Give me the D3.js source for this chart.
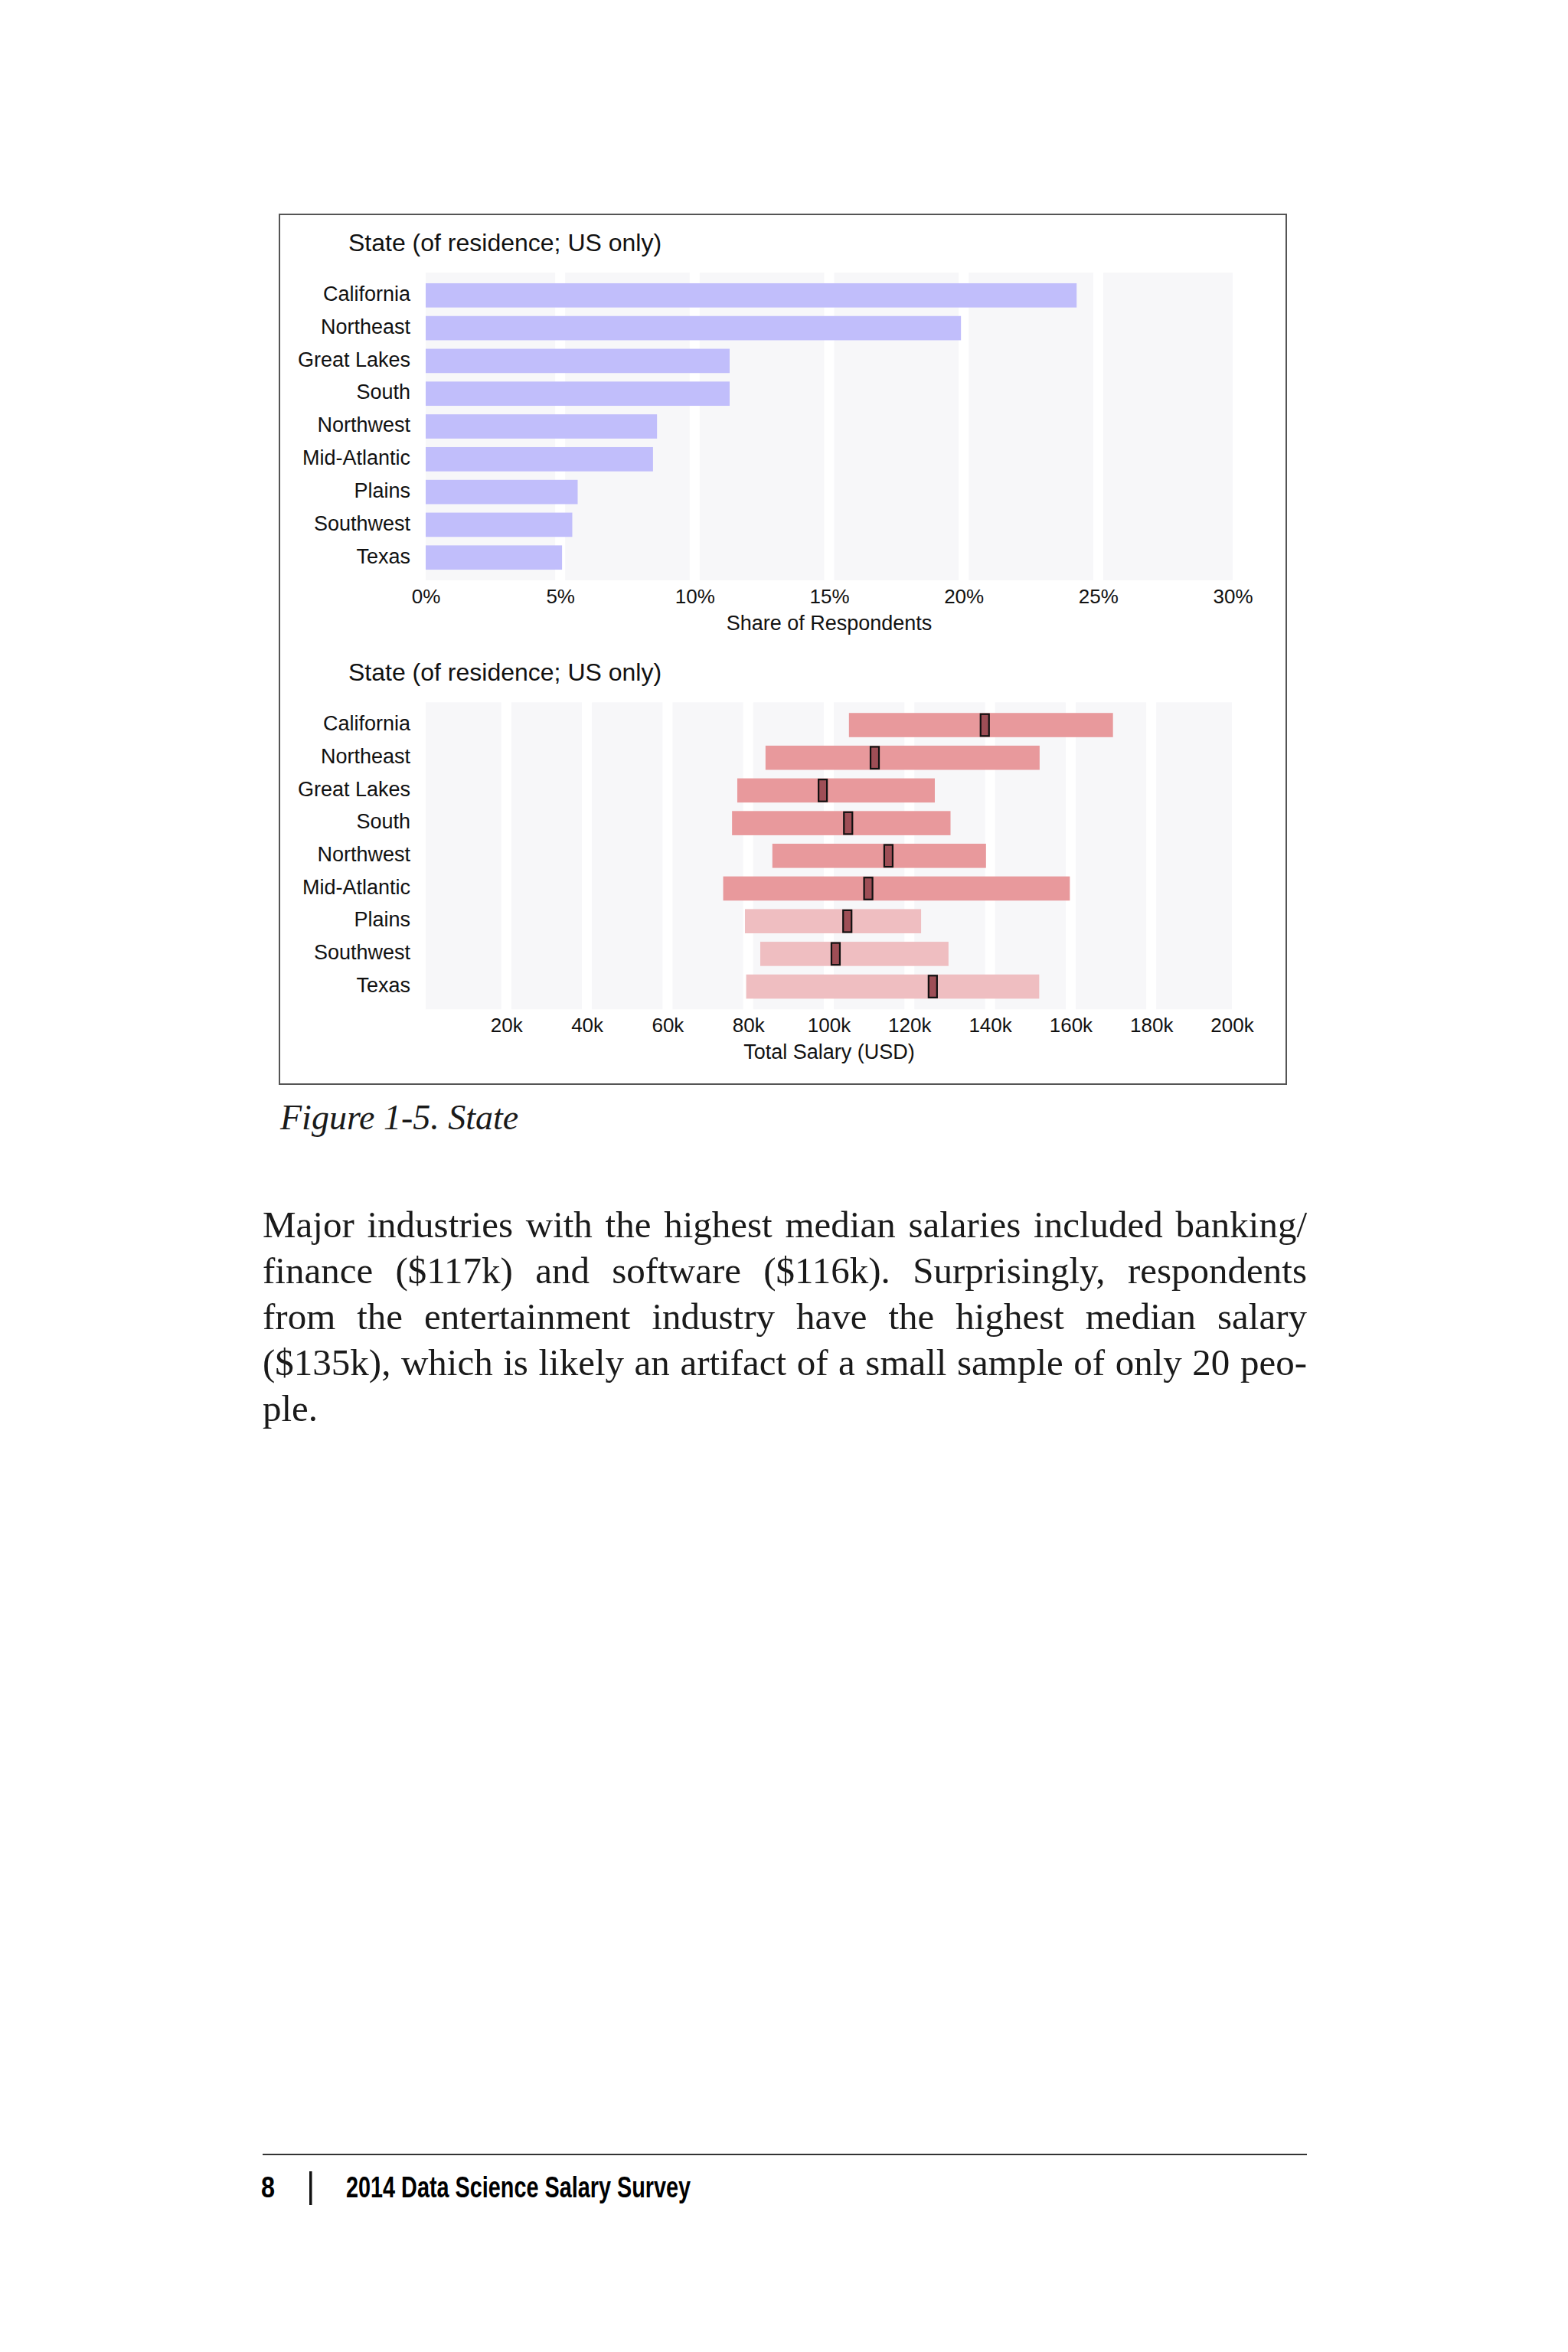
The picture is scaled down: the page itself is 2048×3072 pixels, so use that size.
<!DOCTYPE html>
<html lang="en">
<head>
    <meta charset="UTF-8">
    <script src="https://cdn.jsdelivr.net/npm/d3@7"></script>
    <title>Figure 1-5. State</title>
    <style>
        body { margin: 0; background: #fff; }
        #page { position: relative; width: 2048px; height: 3072px; }
        svg { position: absolute; left: 0; top: 0; }
        .chart-text { font-family: "Liberation Sans", Arial, Helvetica, sans-serif; fill: #111; }
        .para-line {
            position: absolute;
            left: 343px;
            width: 1364px;
            height: 60px;
            font-family: "Liberation Serif", "Times New Roman", serif;
            font-size: 49px;
            line-height: 60px;
            color: #1a1a1a;
            text-align: justify;
            text-align-last: justify;
        }
        .para-line.last { text-align-last: left; }
    </style>
</head>
<body>
<div id="page"></div>
<script>
    // values
    const regions = ["California", "Northeast", "Great Lakes", "South", "Northwest",
                     "Mid-Atlantic", "Plains", "Southwest", "Texas"];
    const shareOfRespondents = [24.2, 19.9, 11.3, 11.3, 8.6, 8.45, 5.65, 5.45, 5.07]; // %
    const salaryLow = [105.0, 84.3, 77.3, 76.0, 86.0, 73.8, 79.2, 83.0, 79.5];        // k USD
    const salaryHigh = [170.5, 152.3, 126.3, 130.2, 139.0, 159.8, 122.9, 129.7, 152.2];
    const salaryMedian = [138.7, 111.4, 98.5, 104.8, 114.8, 109.8, 104.6, 101.7, 125.8];
    const smallSample = [false, false, false, false, false, false, true, true, true];
    const shareTicks = [0, 5, 10, 15, 20, 25, 30];
    const salaryGrid = [0, 20, 40, 60, 80, 100, 120, 140, 160, 180, 200];
    const salaryTicks = [20, 40, 60, 80, 100, 120, 140, 160, 180, 200];

    const paragraphLines = [
        "Major industries with the highest median salaries included banking/",
        "finance ($117k) and software ($116k). Surprisingly, respondents",
        "from the entertainment industry have the highest median salary",
        "($135k), which is likely an artifact of a small sample of only 20 peo-",
        "ple."
    ];

    const page = d3.select("#page");
    const svg = page.append("svg").attr("width", 2048).attr("height", 3072);

    const plotLeft = 556, plotRight = 1610;
    const labelFont = 27, tickFont = 26;

    // frame around both panels
    svg.append("rect")
        .attr("x", 365).attr("y", 280)
        .attr("width", 1315).attr("height", 1136)
        .attr("fill", "none").attr("stroke", "#555").attr("stroke-width", 2);

    function drawPanel(top, bottom, x, gridValues, tickValues, tickFormat, axisTitle) {
        const g = svg.append("g");
        const y = d3.scaleBand().domain(regions).range([top, bottom])
            .paddingInner(0.26).paddingOuter(0.326);

        // grey background columns, white gaps on the grid lines
        const gap = 6.5;
        const cols = d3.pairs(gridValues);
        g.selectAll(".col").data(cols).enter().append("rect")
            .attr("x", (d, i) => x(d[0]) + (i === 0 ? 0 : gap))
            .attr("width", (d, i) => x(d[1]) - x(d[0]) - (i === 0 ? 0 : gap) - (i === cols.length - 1 ? 0 : gap))
            .attr("y", top).attr("height", bottom - top)
            .attr("fill", "#f7f7f9");

        // category labels
        const yAxis = g.append("g").attr("class", "chart-text")
            .attr("transform", `translate(${plotLeft},0)`)
            .call(d3.axisLeft(y).tickSize(0).tickPadding(20));
        yAxis.select(".domain").remove();
        yAxis.selectAll("text").attr("class", "chart-text")
            .style("font-size", labelFont + "px").attr("dy", "0.27em");

        // value axis
        const xAxis = g.append("g")
            .attr("transform", `translate(0,${bottom})`)
            .call(d3.axisBottom(x).tickValues(tickValues).tickFormat(tickFormat).tickSize(0).tickPadding(11.5));
        xAxis.select(".domain").remove();
        xAxis.selectAll("text").attr("class", "chart-text").style("font-size", tickFont + "px");

        g.append("text").attr("class", "chart-text")
            .attr("x", (plotLeft + plotRight) / 2).attr("y", bottom + 65)
            .attr("text-anchor", "middle").style("font-size", labelFont + "px")
            .text(axisTitle);

        g.append("text").attr("class", "chart-text")
            .attr("x", 455).attr("y", top - 28)
            .style("font-size", "32px")
            .text("State (of residence; US only)");

        return { g, y };
    }

    // panel 1: share of respondents
    const xShare = d3.scaleLinear().domain([0, 30]).range([plotLeft, plotRight]);
    const p1 = drawPanel(356, 758, xShare, shareTicks, shareTicks, d => d + "%", "Share of Respondents");
    p1.g.selectAll(".share-bar").data(regions).enter().append("rect")
        .attr("x", xShare(0))
        .attr("y", d => p1.y(d))
        .attr("width", (d, i) => xShare(shareOfRespondents[i]) - xShare(0))
        .attr("height", p1.y.bandwidth())
        .attr("fill", "#c1befb");

    // panel 2: salary range (low / median / high)
    const xSalary = d3.scaleLinear().domain([0, 200]).range([plotLeft, 1609]);
    const p2 = drawPanel(917.3, 1318.3, xSalary, salaryGrid, salaryTicks, d => d + "k", "Total Salary (USD)");
    p2.g.selectAll(".range-bar").data(regions).enter().append("rect")
        .attr("x", (d, i) => xSalary(salaryLow[i]))
        .attr("y", d => p2.y(d))
        .attr("width", (d, i) => xSalary(salaryHigh[i]) - xSalary(salaryLow[i]))
        .attr("height", p2.y.bandwidth())
        .attr("fill", (d, i) => smallSample[i] ? "#efbec1" : "#e8999c");

    const medW = 11;
    p2.g.selectAll(".median").data(regions).enter().append("rect")
        .attr("x", (d, i) => xSalary(salaryMedian[i]) - medW / 2)
        .attr("y", d => p2.y(d) + 1.5)
        .attr("width", medW)
        .attr("height", p2.y.bandwidth() - 3)
        .attr("fill", "#9e4e56")
        .attr("stroke", "#111")
        .attr("stroke-width", 2.2);

    // caption
    svg.append("text")
        .attr("x", 366).attr("y", 1475)
        .style("font-family", "'Liberation Serif', 'Times New Roman', serif")
        .style("font-style", "italic").style("font-size", "46px").attr("fill", "#1a1a1a")
        .text("Figure 1-5. State");

    // body paragraph
    page.selectAll(".para-line").data(paragraphLines).enter().append("div")
        .attr("class", (d, i) => i === paragraphLines.length - 1 ? "para-line last" : "para-line")
        .style("top", (d, i) => (1569.5 + i * 60) + "px")
        .text(d => d);

    // footer
    svg.append("line")
        .attr("x1", 343).attr("x2", 1707).attr("y1", 2814).attr("y2", 2814)
        .attr("stroke", "#333").attr("stroke-width", 2);
    const footFont = "'Liberation Sans Narrow', 'Liberation Sans', Arial, sans-serif";
    svg.append("text")
        .attr("x", 341).attr("y", 2870)
        .style("font-family", footFont).style("font-weight", "bold").style("font-size", "38px")
        .attr("textLength", 18).attr("lengthAdjust", "spacingAndGlyphs")
        .text("8");
    svg.append("rect")
        .attr("x", 404).attr("y", 2836).attr("width", 3.5).attr("height", 44).attr("fill", "#111");
    svg.append("text")
        .attr("x", 452).attr("y", 2870)
        .style("font-family", footFont).style("font-weight", "bold").style("font-size", "38px")
        .attr("textLength", 450).attr("lengthAdjust", "spacingAndGlyphs")
        .text("2014 Data Science Salary Survey");
</script>
</body>
</html>
